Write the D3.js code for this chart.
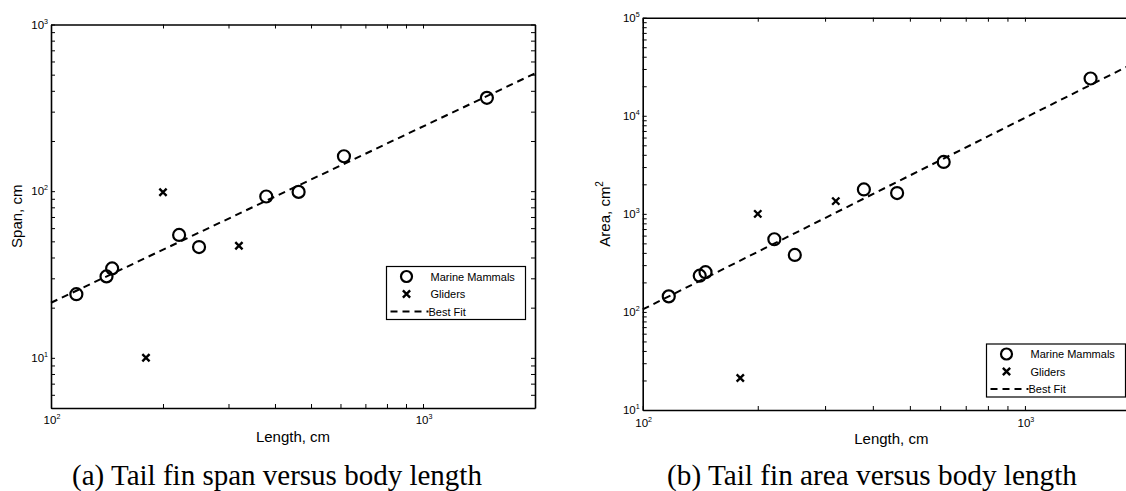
<!DOCTYPE html>
<html>
<head>
<meta charset="utf-8">
<script src="https://cdn.jsdelivr.net/npm/d3@7"></script>
<style>
  body { margin: 0; background: #fff; }
  svg text { font-family: "Liberation Sans", Arial, sans-serif; fill: #000; }
  .caption { font-family: "Liberation Serif", "DejaVu Serif", serif; }
</style>
</head>
<body>
<svg id="chart" width="1126" height="491"></svg>
<script>
// values
var mammalLength = [117, 141, 146, 221, 250, 379, 463, 613, 1485];
var mammalSpan   = [24.1, 30.8, 34.4, 54.6, 46.2, 92.9, 99, 162, 363];
var mammalArea   = [144, 234, 254, 551, 381, 1774, 1629, 3382, 23990];
var gliderLength = [200, 180, 320];
var gliderSpan   = [98.6, 10, 47.1];
var gliderArea   = [1000, 21.2, 1349];
// best fit drawn through its two end values
var fitLength = [100, 2000];
var fitSpan   = [21.4, 509];
var fitArea   = [106, 36900];
var legendLabels = ["Marine Mammals", "Gliders", "Best Fit"];
var captions = ["(a) Tail fin span versus body length", "(b) Tail fin area versus body length"];

var svg = d3.select("#chart");

// all 1..9 x 10^k values inside a domain, for the log ticks
function logTicks(lo, hi) {
  var out = [];
  for (var e = Math.floor(Math.log10(lo)); e <= Math.ceil(Math.log10(hi)); e++) {
    for (var m = 1; m < 10; m++) {
      var v = m * Math.pow(10, e);
      if (v >= lo - 1e-9 && v <= hi + 1e-9) out.push(v);
    }
  }
  return out;
}
function decades(lo, hi) {
  return logTicks(lo, hi).filter(function(v) { return Math.abs(Math.log10(v) - Math.round(Math.log10(v))) < 1e-9; });
}

function powLabel(g, x, y, v, anchor, fs) {
  var t = g.append("text").attr("x", x).attr("y", y)
    .attr("text-anchor", anchor).style("font-size", fs + "px");
  t.append("tspan").text("10");
  t.append("tspan").attr("dy", -5).style("font-size", (fs * 0.62) + "px")
    .text(Math.round(Math.log10(v)));
}

function panel(cfg) {
  var g = svg.append("g");
  var x = d3.scaleLog().domain([100, 2000]).range([cfg.left, cfg.right]);
  var y = d3.scaleLog().domain(cfg.yDomain).range([cfg.bottom, cfg.top]);
  var xt = logTicks(100, 2000), yt = logTicks(cfg.yDomain[0], cfg.yDomain[1]);

  var axes = [
    [d3.axisBottom(x).tickValues(xt), "translate(0," + cfg.bottom + ")"],
    [d3.axisTop(x).tickValues(xt), "translate(0," + cfg.top + ")"],
    [d3.axisLeft(y).tickValues(yt), "translate(" + cfg.left + ",0)"],
    [d3.axisRight(y).tickValues(yt), "translate(" + cfg.right + ",0)"]
  ];
  axes.forEach(function(a) {
    var ax = g.append("g").attr("transform", a[1])
      .call(a[0].tickSize(-4).tickSizeOuter(0).tickFormat(""));
    ax.select(".domain").attr("stroke", "#000").attr("stroke-width", 1.6);
    ax.selectAll(".tick line").attr("stroke", "#000").attr("stroke-width", 1);
  });

  decades(100, 2000).forEach(function(v) {
    powLabel(g, x(v) + 1, cfg.bottom + cfg.xLabDy, v, "middle", 11.5);
  });
  decades(cfg.yDomain[0], cfg.yDomain[1]).forEach(function(v) {
    powLabel(g, cfg.left - 3, y(v) + 4, v, "end", 11.5);
  });

  // axis titles
  g.append("text").attr("x", (cfg.left + cfg.right) / 2).attr("y", cfg.bottom + 34)
    .attr("text-anchor", "middle").style("font-size", "15px").text("Length, cm");
  var yt2 = g.append("text")
    .attr("transform", "translate(" + cfg.yTitleX + "," + ((cfg.top + cfg.bottom) / 2) + ") rotate(-90)")
    .attr("text-anchor", "middle").style("font-size", "15px");
  yt2.append("tspan").text(cfg.yTitle);
  if (cfg.yTitleSup) yt2.append("tspan").attr("dy", -7).style("font-size", "10px").text(cfg.yTitleSup);

  // best fit
  var line = d3.line().x(function(d) { return x(d[0]); }).y(function(d) { return y(d[1]); });
  g.append("path").datum(d3.zip(fitLength, cfg.fit))
    .attr("d", line).attr("fill", "none").attr("stroke", "#000")
    .attr("stroke-width", 2).attr("stroke-dasharray", "7,5");

  // marine mammals
  g.selectAll("circle.mm").data(d3.zip(mammalLength, cfg.mammals)).enter()
    .append("circle").attr("class", "mm")
    .attr("cx", function(d) { return x(d[0]); })
    .attr("cy", function(d) { return y(d[1]); })
    .attr("r", 6).attr("fill", "none").attr("stroke", "#000").attr("stroke-width", 2.2);

  // gliders
  var cross = d3.symbol().type(d3.symbolX).size(36);
  g.selectAll("path.gl").data(d3.zip(gliderLength, cfg.gliders)).enter()
    .append("path").attr("class", "gl").attr("d", cross)
    .attr("transform", function(d) { return "translate(" + x(d[0]) + "," + y(d[1]) + ")"; })
    .attr("fill", "none").attr("stroke", "#000").attr("stroke-width", 2.4);

  // legend
  var lg = g.append("g").attr("transform", "translate(" + cfg.legend[0] + "," + cfg.legend[1] + ")");
  lg.append("rect").attr("width", 139).attr("height", 53)
    .attr("fill", "#fff").attr("stroke", "#000").attr("stroke-width", 1.2);
  var rowY = [10, 27.5, 45];
  lg.append("circle").attr("cx", 20).attr("cy", rowY[0]).attr("r", 5.5)
    .attr("fill", "none").attr("stroke", "#000").attr("stroke-width", 2.2);
  lg.append("path").attr("d", cross).attr("transform", "translate(20," + rowY[1] + ")")
    .attr("fill", "none").attr("stroke", "#000").attr("stroke-width", 2.4);
  lg.append("line").attr("x1", 4).attr("x2", 42).attr("y1", rowY[2]).attr("y2", rowY[2])
    .attr("stroke", "#000").attr("stroke-width", 2).attr("stroke-dasharray", "7,5");
  lg.selectAll("text.lab").data(legendLabels).enter().append("text").attr("class", "lab")
    .attr("x", function(d, i) { return i === 2 ? 42 : 44; })
    .attr("y", function(d, i) { return rowY[i] + 4; })
    .style("font-size", "11px").text(function(d) { return d; });

  // caption
  var cap = svg.append("text").attr("class", "caption")
    .attr("x", cfg.capX).attr("y", 485).attr("text-anchor", "middle")
    .style("font-size", "22px").text(cfg.caption);
  var w = cap.node().getComputedTextLength();
  cap.style("font-size", (22 * 410 / w) + "px");
}

panel({
  left: 51, right: 535, top: 24.5, bottom: 408,
  yDomain: [5, 1000], mammals: mammalSpan, gliders: gliderSpan, fit: fitSpan,
  yTitle: "Span, cm", yTitleX: 22, xLabDy: 16,
  legend: [386.5, 266.5], caption: captions[0], capX: 277
});
panel({
  left: 642.7, right: 1140, top: 17.7, bottom: 410,
  yDomain: [10, 100000], mammals: mammalArea, gliders: gliderArea, fit: fitArea,
  yTitle: "Area, cm", yTitleSup: "2", yTitleX: 610, xLabDy: 17,
  legend: [986.5, 344], caption: captions[1], capX: 872
});
</script>
</body>
</html>
